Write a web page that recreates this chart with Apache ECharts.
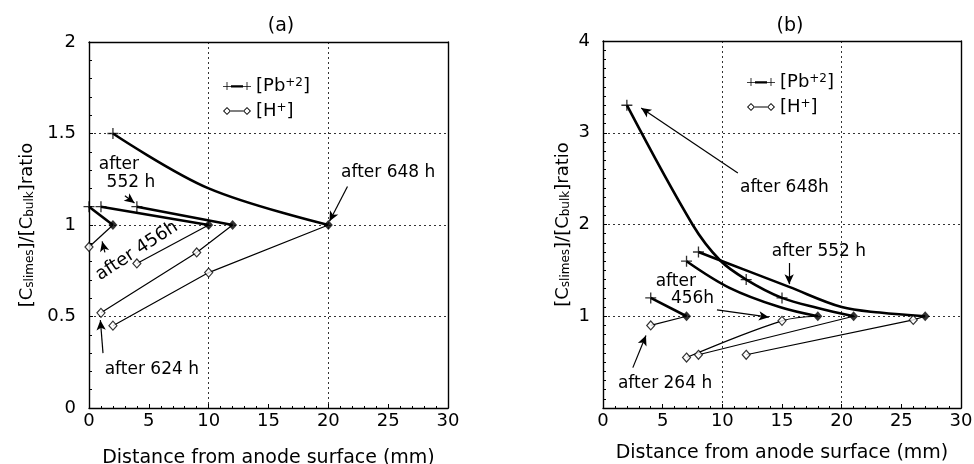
<!DOCTYPE html>
<html>
<head>
<meta charset="utf-8">
<script src="https://cdn.jsdelivr.net/npm/echarts@6/dist/echarts.min.js"></script>
<style>
html, body { margin: 0; padding: 0; background: #fff; }
#chart { width: 974px; height: 464px; }
</style>
</head>
<body>
<div id="chart"></div>
<script>
// ---- panel (a) ----
var aPb1 = [[0, 1.1], [2, 1.0]];
var aPb2 = [[1, 1.1], [10, 1.0]];
var aPb3 = [[4, 1.1], [12, 1.0]];
var aPb4 = [[2, 1.5], [10, 1.2], [20, 1.0]];
var aH1 = [[0, 0.88], [2, 1.0]];
var aH2 = [[4, 0.79], [10, 1.0]];
var aH3 = [[1, 0.52], [9, 0.85], [12, 1.0]];
var aH4 = [[2, 0.45], [10, 0.74], [20, 1.0]];
var aPbMarks = [[0, 1.1], [1, 1.1], [4, 1.1], [2, 1.5]];
var aHMarks = [[0, 0.88], [4, 0.79], [1, 0.52], [9, 0.85], [2, 0.45], [10, 0.74]];
var aBulk = [[2, 1], [10, 1], [12, 1], [20, 1]];
var aNotes = [[25.0, 1.284, 'after 648 h', 0], [2.5, 1.33, 'after', 0], [3.5, 1.23, '552 h', 0],
  [4.0, 0.858, 'after 456h', 33], [5.25, 0.208, 'after 624 h', 0]];
var aArrows = [[21.6, 1.21, 20.1, 1.02], [3.0, 1.16, 3.8, 1.12], [1.33, 0.85, 1.1, 0.91], [1.17, 0.30, 0.95, 0.48]];

// ---- panel (b) ----
var bPb264 = [[4, 1.2], [7, 1.0]];
var bPb456 = [[7, 1.6], [10.6, 1.31], [14.8, 1.1], [18, 1.0]];
var bPb552 = [[8, 1.7], [12, 1.5], [15.6, 1.32], [20, 1.1], [23.2, 1.04], [27, 1.0]];
var bPb648 = [[2, 3.3], [7.5, 2.0], [9.8, 1.61], [12, 1.4], [15, 1.2], [18, 1.09], [21, 1.0]];
var bH264 = [[4, 0.9], [7, 1.0]];
var bH456 = [[7, 0.55], [15, 0.95], [18, 1.0]];
var bH552 = [[12, 0.58], [26, 0.96], [27, 1.0]];
var bH648 = [[8, 0.58], [21, 1.0]];
var bPbMarks = [[4, 1.2], [7, 1.6], [8, 1.7], [2, 3.3], [12, 1.4], [15, 1.2]];
var bHMarks = [[4, 0.9], [7, 0.55], [15, 0.95], [8, 0.58], [12, 0.58], [26, 0.96]];
var bBulk = [[7, 1], [18, 1], [21, 1], [27, 1]];
var bNotes = [[15.2, 2.40, 'after 648h', 0], [18.1, 1.70, 'after 552 h', 0], [6.1, 1.38, 'after', 0],
  [7.5, 1.19, '456h', 0], [5.2, 0.27, 'after 264 h', 0]];
var bArrows = [[11.3, 2.56, 3.2, 3.27], [15.6, 1.58, 15.6, 1.35], [9.55, 1.07, 13.9, 0.99], [2.5, 0.44, 3.6, 0.79]];

var FONT = 'DejaVu Sans';
var plusSym = 'path://M4.4,0h1.2v4.4h4.4v1.2h-4.4v4.4h-1.2v-4.4h-4.4v-1.2h4.4z';
var pbIcon = 'path://M0,4.6h8v0.8h-8z M3.6,0.6h0.8v8h-0.8z M8,3.8h12v2.4h-12z M20,4.6h8v0.8h-8z M23.6,0.6h0.8v8h-0.8z';
var hIcon = 'path://M4,0L8,4L4,8L0,4Z M4,1.3L1.3,4L4,6.7L6.7,4Z M8,3.6h12v0.8h-12z M24,0L28,4L24,8L20,4Z M24,1.3L21.3,4L24,6.7L26.7,4Z';

function lineS(name, data, g, thick, smooth) {
  return {
    name: name, type: 'line', data: data, xAxisIndex: g * 2, yAxisIndex: g * 2,
    symbol: 'none', smooth: smooth ? 0.35 : false,
    lineStyle: { color: '#000', width: thick ? 2.6 : 1.2 },
    itemStyle: { color: '#000' }, z: 2, silent: true
  };
}
function markS(data, g, kind) {
  var s = { type: 'scatter', data: data, xAxisIndex: g * 2, yAxisIndex: g * 2, z: 4, silent: true };
  if (kind === 'plus') { s.symbol = plusSym; s.symbolSize = 11; s.itemStyle = { color: '#000' }; }
  if (kind === 'open') { s.symbol = 'diamond'; s.symbolSize = [8, 9]; s.itemStyle = { color: '#fff', borderColor: '#000', borderWidth: 1.2 }; }
  if (kind === 'bulk') { s.symbol = 'diamond'; s.symbolSize = [9, 10]; s.itemStyle = { color: '#000' }; }
  return s;
}
function noteS(notes, arrows, g) {
  var lab = { show: true, position: 'inside', color: '#000', fontFamily: FONT, fontSize: 17, textBorderWidth: 0, opacity: 1 };
  return {
    type: 'scatter', xAxisIndex: g * 2, yAxisIndex: g * 2, z: 5, silent: true,
    symbolSize: 1, itemStyle: { color: '#fff' },
    data: notes.map(function (n) {
      return { value: [n[0], n[1]], label: Object.assign({}, lab, { formatter: n[2], rotate: n[3], fontSize: n[3] ? 18 : 17 }) };
    }),
    label: lab,
    markLine: {
      silent: true, animation: false, symbol: ['none', 'arrow'], symbolSize: [7, 10],
      lineStyle: { color: '#000', width: 1.2, type: 'solid' }, label: { show: false },
      emphasis: { disabled: true },
      data: arrows.map(function (a) { return [{ coord: [a[0], a[1]] }, { coord: [a[2], a[3]] }]; })
    }
  };
}

var axisLine = { show: true, onZero: false, lineStyle: { color: '#000', width: 1.4 } };
var dotted = { show: true, lineStyle: { color: '#333', width: 1, type: [2, 3] } };
var xName = 'Distance from anode surface (mm)';
var yName = '[C{s|slimes}]/[C{s|bulk}]ratio';
var nameStyle = {
  fontFamily: FONT, fontSize: 18, color: '#000',
  rich: { s: { fontFamily: FONT, fontSize: 12, verticalAlign: 'bottom', color: '#000' } }
};

function xBottom(g) {
  return {
    gridIndex: g, type: 'value', min: 0, max: 30, interval: 5, position: 'bottom',
    axisLine: axisLine, axisTick: { show: true, inside: true, length: 4, lineStyle: { color: '#000' } },
    minorTick: { show: true, splitNumber: 5, length: 2, lineStyle: { color: '#000' } },
    axisLabel: { fontFamily: FONT, fontSize: 18, color: '#000', margin: 4 },
    splitLine: { show: false },
    name: xName, nameLocation: 'middle', nameGap: g === 0 ? 41 : 36,
    nameTextStyle: { fontFamily: FONT, fontSize: 19, color: '#000' }
  };
}
function xTop(g) {
  return {
    gridIndex: g, type: 'value', min: 0, max: 30, interval: 10, position: 'top',
    axisLine: axisLine, axisTick: { show: false }, axisLabel: { show: false }, splitLine: dotted
  };
}
function yLeft(g, max, interval, minor, gap) {
  return {
    gridIndex: g, type: 'value', min: 0, max: max, interval: interval, position: 'left',
    axisLine: axisLine, axisTick: { show: true, inside: true, length: 4, lineStyle: { color: '#000' } },
    minorTick: { show: true, splitNumber: minor, length: 3, lineStyle: { color: '#000' } },
    axisLabel: {
      fontFamily: FONT, fontSize: 18, color: '#000', margin: 13,
      formatter: function (v) { return (g === 1 && v === 0) ? '' : String(v); }
    },
    splitLine: dotted,
    name: yName, nameLocation: 'middle', nameRotate: 90, nameGap: gap, nameTextStyle: nameStyle
  };
}
function yRight(g, max) {
  return {
    gridIndex: g, type: 'value', min: 0, max: max, position: 'right',
    axisLine: axisLine, axisTick: { show: false }, axisLabel: { show: false }, splitLine: { show: false }
  };
}
function legendFor(left, top) {
  return {
    left: left, top: top, orient: 'vertical', itemGap: 7, itemWidth: 28, itemHeight: 8,
    selectedMode: false,
    data: [{ name: 'Pb', icon: pbIcon }, { name: 'H', icon: hIcon }],
    formatter: function (n) { return n === 'Pb' ? '[Pb{sup|+2}]' : '[H{sup|+}]'; },
    textStyle: {
      fontFamily: FONT, fontSize: 18, color: '#000',
      rich: { sup: { fontFamily: FONT, fontSize: 12, verticalAlign: 'top', color: '#000' } }
    }
  };
}

var chart = echarts.init(document.getElementById('chart'), null, { renderer: 'canvas' });
chart.setOption({
  animation: false,
  backgroundColor: '#fff',
  title: [
    { text: '(a)', left: 276, top: 12, textAlign: 'center', textStyle: { fontFamily: FONT, fontSize: 19, fontWeight: 'normal', color: '#000' } },
    { text: '(b)', left: 785, top: 12, textAlign: 'center', textStyle: { fontFamily: FONT, fontSize: 19, fontWeight: 'normal', color: '#000' } }
  ],
  legend: [legendFor(218, 72), legendFor(742, 68)],
  grid: [
    { left: 89, top: 42, width: 359, height: 366, containLabel: false, outerBoundsMode: 'none' },
    { left: 603, top: 41, width: 358, height: 367, containLabel: false, outerBoundsMode: 'none' }
  ],
  xAxis: [xBottom(0), xTop(0), xBottom(1), xTop(1)],
  yAxis: [yLeft(0, 2, 0.5, 5, 53), yRight(0, 2), yLeft(1, 4, 1, 10, 31), yRight(1, 4)],
  series: [
    lineS('Pb', aPb1, 0, true), lineS('Pb', aPb2, 0, true), lineS('Pb', aPb3, 0, true), lineS('Pb', aPb4, 0, true, true),
    lineS('H', aH1, 0, false), lineS('H', aH2, 0, false), lineS('H', aH3, 0, false), lineS('H', aH4, 0, false),
    markS(aPbMarks, 0, 'plus'), markS(aHMarks, 0, 'open'), markS(aBulk, 0, 'bulk'),
    noteS(aNotes, aArrows, 0),
    lineS('Pb', bPb264, 1, true), lineS('Pb', bPb456, 1, true, true), lineS('Pb', bPb552, 1, true, true), lineS('Pb', bPb648, 1, true, true),
    lineS('H', bH264, 1, false), lineS('H', bH456, 1, false, true), lineS('H', bH552, 1, false), lineS('H', bH648, 1, false),
    markS(bPbMarks, 1, 'plus'), markS(bHMarks, 1, 'open'), markS(bBulk, 1, 'bulk'),
    noteS(bNotes, bArrows, 1)
  ]
});
</script>
</body>
</html>
